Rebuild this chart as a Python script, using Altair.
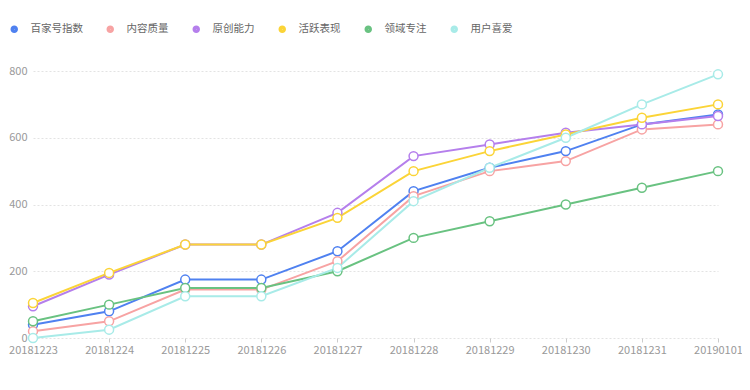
import altair as alt
import pandas as pd

dates = ["20181223", "20181224", "20181225", "20181226", "20181227",
         "20181228", "20181229", "20181230", "20181231", "20190101"]
series = ["百家号指数", "内容质量", "原创能力", "活跃表现", "领域专注", "用户喜爱"]
colors = ["#4f81f0", "#f7a3a3", "#b57fec", "#fbd437", "#69c281", "#a8ebe8"]

baijiahao = [40, 80, 175, 175, 260, 440, 510, 560, 640, 670]
neirong = [20, 50, 145, 145, 230, 425, 500, 530, 625, 640]
yuanchuang = [95, 190, 280, 280, 375, 545, 580, 615, 640, 665]
huoyue = [105, 195, 280, 280, 360, 500, 560, 610, 660, 700]
lingyu = [50, 100, 150, 150, 200, 300, 350, 400, 450, 500]
yonghu = [0, 25, 125, 125, 210, 410, 510, 600, 700, 790]

values = [baijiahao, neirong, yuanchuang, huoyue, lingyu, yonghu]
rows = []
for s, vals in zip(series, values):
    for d, v in zip(dates, vals):
        rows.append({"date": d, "series": s, "value": v})
df = pd.DataFrame(rows)

FONT = "Noto Sans CJK SC"

x = alt.X("date:O", scale=alt.Scale(type="point", padding=0),
          axis=alt.Axis(title=None, labelAngle=0, domain=False, grid=False,
                        ticks=True, tickSize=4, tickColor="#cccccc",
                        labelColor="#999999", labelFontSize=11, labelPadding=2,
                        labelFont=FONT))
y = alt.Y("value:Q", scale=alt.Scale(domain=[0, 800], nice=False),
          axis=alt.Axis(title=None, values=[0, 200, 400, 600, 800], domain=False,
                        ticks=False, grid=True, gridColor="#e3e3e3", gridDash=[2, 2],
                        labelColor="#999999", labelFontSize=11, labelPadding=6,
                        labelFont=FONT))
color_scale = alt.Scale(domain=series, range=colors)

base = alt.Chart(df)

lines = base.mark_line(strokeWidth=2).encode(
    x=x, y=y,
    color=alt.Color("series:N", scale=color_scale, sort=series,
                    legend=alt.Legend(title=None, orient="none", direction="horizontal",
                                      legendX=-24, legendY=-47,
                                      symbolType="circle", symbolSize=12,
                                      symbolStrokeWidth=4, labelFontSize=10.5,
                                      labelColor="#666666", labelFont=FONT,
                                      labelOffset=11, columnPadding=17)),
    order=alt.Order("date:O"),
)

points = base.mark_point(filled=False, fill="white", size=80, strokeWidth=1.5,
                         opacity=1).encode(
    x=x, y=y,
    color=alt.Color("series:N", scale=color_scale, sort=series, legend=None),
)

chart = alt.layer(lines, points).properties(
    width=685, height=267,
    autosize=alt.AutoSizeParams(type="none"),
    padding={"left": 25, "top": 63, "right": 24, "bottom": 44},
).configure_view(stroke=None)

chart.save("out.html", embed_options={"renderer": "svg", "actions": False})
